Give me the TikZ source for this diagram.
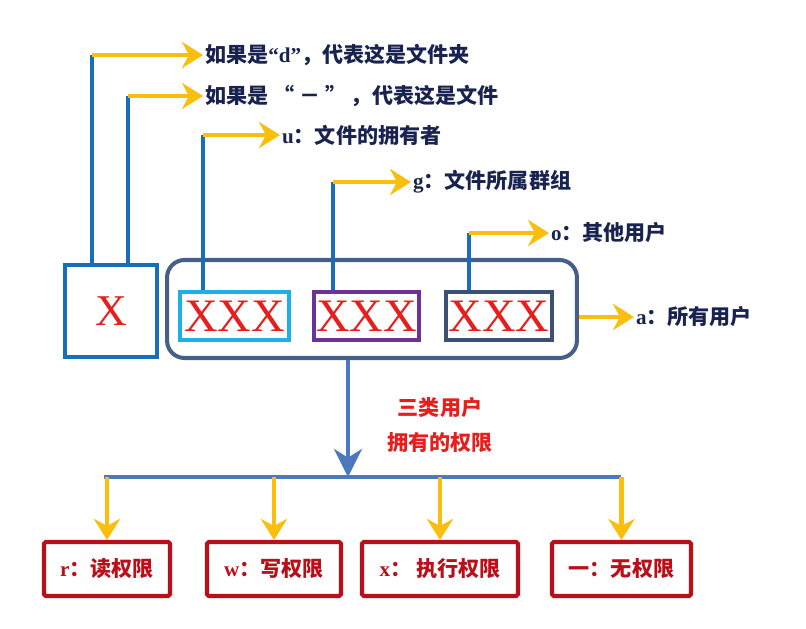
\documentclass[tikz,border=0pt]{standalone}
\usepackage{fontspec}
\usepackage{xcolor}
\setmainfont{Liberation Serif}
\newfontfamily\cjk{Noto Sans CJK SC}
\usetikzlibrary{arrows.meta}
\definecolor{navytext}{RGB}{25,35,80}
\definecolor{permblue}{RGB}{25,110,185}
\definecolor{permyellow}{RGB}{250,190,15}
\definecolor{groupslate}{RGB}{70,95,135}
\definecolor{ownercyan}{RGB}{30,175,230}
\definecolor{grouppurple}{RGB}{110,50,150}
\definecolor{otherslate}{RGB}{60,80,115}
\definecolor{bitred}{RGB}{230,30,30}
\definecolor{rightred}{RGB}{185,15,25}
\definecolor{splitblue}{RGB}{75,120,190}

\begin{document}
\begin{tikzpicture}[x=0.02cm,y=-0.02cm,
    bline/.style={draw=permblue, line width=2.3pt},
    yarrow/.style={draw=permyellow, line width=2.8pt, -{Stealth[length=12pt,width=15pt,inset=4pt]}},
    toplabel/.style={anchor=west, inner sep=1pt, text=navytext, font=\fontsize{12}{14}\selectfont\bfseries},
    bitbox/.style={line width=2.3pt, minimum height=0.96cm, inner sep=0pt, text=bitred, font=\fontsize{26.5}{28}\selectfont},
    rightbox/.style={draw=rightred, line width=2.3pt, minimum height=1.08cm, rounded corners=1pt, text=rightred, font=\fontsize{12}{14}\selectfont\bfseries}]
    \useasboundingbox (0,0) rectangle (806,629);
    % type bit and the three groups
    \node[draw=permblue, line width=2.3pt, minimum width=1.84cm, minimum height=1.84cm, text=bitred, font=\fontsize{25}{26}\selectfont] (typebox) at (111,311) {X};
    \node[draw=groupslate, line width=2.3pt, minimum width=8.2cm, minimum height=1.96cm, rounded corners=0.35cm] (allbox) at (372,309) {};
    \node[bitbox, draw=ownercyan, minimum width=2.18cm] (ubox) at (234.5,316) {XXX};
    \node[bitbox, draw=grouppurple, minimum width=2.1cm] (gbox) at (366.5,316) {XXX};
    \node[bitbox, draw=otherslate, minimum width=2.12cm] (obox) at (499,316) {XXX};

    % labels
    \node[toplabel] (dlabel) at (203,55) {{\cjk 如果是}“d”{\cjk ，代表这是文件夹}};
    \node[toplabel] (flabel) at (203,96) {\cjk 如果是 “ － ” ，代表这是文件};
    \node[toplabel] (ulabel) at (280,135) {u{\cjk ：文件的拥有者}};
    \node[toplabel] (glabel) at (411,182) {g{\cjk ：文件所属群组}};
    \node[toplabel] (olabel) at (549,233) {o{\cjk ：其他用户}};
    \node[toplabel] (alabel) at (634,317) {a{\cjk ：所有用户}};

    \coordinate (dturn) at (92,55);
    \coordinate (fturn) at (128,96);
    \coordinate (uturn) at (203,135);
    \coordinate (gturn) at (333,182);
    \coordinate (oturn) at (469,233);
    \draw[bline] (typebox.north -| dturn) -- (dturn);
    \draw[bline] (typebox.north -| fturn) -- (fturn);
    \draw[bline] (ubox.north -| uturn) -- (uturn);
    \draw[bline] (gbox.north -| gturn) -- (gturn);
    \draw[bline] (obox.north -| oturn) -- (oturn);
    \draw[yarrow] (dturn) -- (dlabel.west);
    \draw[yarrow] (fturn) -- (flabel.west);
    \draw[yarrow] (uturn) -- (ulabel.west);
    \draw[yarrow] (gturn) -- (glabel.west);
    \draw[yarrow] (oturn) -- (olabel.west);
    \draw[yarrow] (allbox.east |- alabel) -- (alabel.west);

    % the permissions
    \coordinate (split) at (348,477);
    \coordinate (barL) at (104,477);
    \coordinate (barR) at (621,477);
    \draw[draw=splitblue, line width=2.3pt, -{Stealth[length=16pt,width=16pt,inset=5pt]}] (allbox.south -| split) -- (split);
    \draw[draw=splitblue, line width=2.3pt] (barL) -- (barR);
    \node[text=bitred, font=\fontsize{12}{14}\selectfont\cjk\bfseries] (kind1) at (440,408) {三类用户};
    \node[text=bitred, font=\fontsize{12}{14}\selectfont\cjk\bfseries] (kind2) at (440,443) {拥有的权限};

    \node[rightbox, minimum width=2.52cm] (rbox) at (107,569) {r{\cjk ：读权限}};
    \node[rightbox, minimum width=2.68cm] (wbox) at (274,569) {w{\cjk ：写权限}};
    \node[rightbox, minimum width=3.12cm] (xbox) at (440,569) {x{\cjk ： 执行权限}};
    \node[rightbox, minimum width=2.78cm] (nbox) at (621.5,569) {\cjk 一：无权限};
    \foreach \b in {rbox,wbox,xbox,nbox}
        \draw[yarrow] (\b.north |- barL) -- (\b.north);
\end{tikzpicture}
\end{document}
